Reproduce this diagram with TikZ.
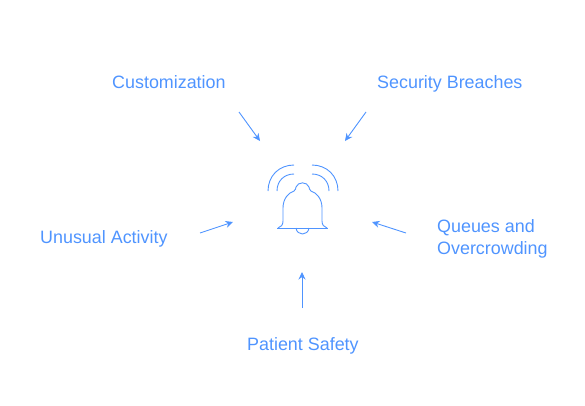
\documentclass[tikz,border=0pt]{standalone}
\usepackage{fontspec}
\setmainfont{Liberation Sans}
\usetikzlibrary{arrows.meta}
\definecolor{bluealert}{HTML}{4F94FF}
\begin{document}
\begin{tikzpicture}[x=1pt,y=-1pt,>={Stealth[length=7.5pt,width=7pt]},
    every node/.style={font=\fontsize{17.9}{22}\selectfont,text=bluealert},
    topic/.style={inner sep=0pt,anchor=base west,align=left},
    flow/.style={->,draw=bluealert,line width=0.9pt},
    bellline/.style={draw=bluealert,line width=0.9pt}]
  \useasboundingbox (0,0) rectangle (585,405);
  \node[topic] (cust) at (112,88) {Customization};
  \node[topic] (breach) at (377,88) {Security Breaches};
  \node[topic] (unusual) at (40,243) {Unusual Activity};
  \node[topic,anchor=west] (queues) at (437,239) {Queues and\\Overcrowding};
  \node[topic] (safety) at (247,350) {Patient Safety};
  \coordinate (custA) at (239,112);
  \coordinate (custB) at (260,141);
  \coordinate (breachA) at (366,112);
  \coordinate (breachB) at (345,141);
  \coordinate (unusualA) at (200,233);
  \coordinate (unusualB) at (233,222);
  \coordinate (queuesA) at (406,233);
  \coordinate (queuesB) at (372,222);
  \coordinate (safetyA) at (302,308);
  \coordinate (safetyB) at (302,272);
  \draw[flow] (custA) -- (custB);
  \draw[flow] (breachA) -- (breachB);
  \draw[flow] (unusualA) -- (unusualB);
  \draw[flow] (queuesA) -- (queuesB);
  \draw[flow] (safetyA) -- (safetyB);
  % bell
  \draw[bellline] (277,228) -- (328,228);
  \draw[bellline] (296,228) .. controls (297,236) and (308,236) .. (309,228);
  \draw[bellline] (278,228) .. controls (281,227) and (283,225) .. (283,221)
    -- (283,208) .. controls (283,199) and (288,193) .. (294,191)
    .. controls (296,190) and (295.5,188) .. (296,187)
    .. controls (298,181.5) and (307,181.5) .. (309,187)
    .. controls (309.5,188) and (309,190) .. (311,191)
    .. controls (317,193) and (322,199) .. (322,208)
    -- (322,221) .. controls (322,225) and (324,227) .. (327,228);
  % waves
  \draw[bellline] (268,191) .. controls (268,176) and (279,165) .. (294,165);
  \draw[bellline] (277,191) .. controls (277,181) and (284,174) .. (294,174);
  \draw[bellline] (312,165) .. controls (327,165) and (338,176) .. (338,191);
  \draw[bellline] (312,174) .. controls (322,174) and (329,181) .. (329,191);
\end{tikzpicture}
\end{document}
